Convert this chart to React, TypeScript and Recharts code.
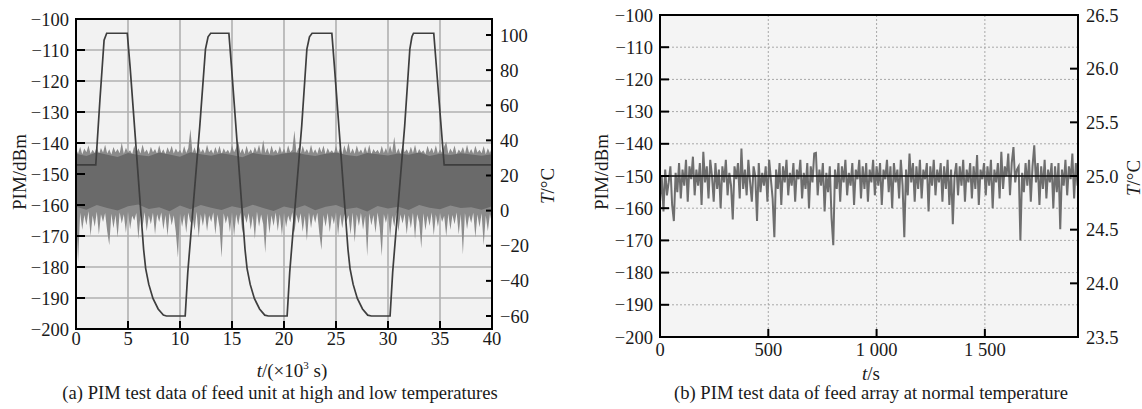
import { ComposedChart, Line, Area, XAxis, YAxis, CartesianGrid, ReferenceArea } from 'recharts';

// ---- (a) feed unit, high / low temperature, t in 10^3 s ----
const tempTimeA = [
  0, 1.9, 2.3, 2.7, 2.95, 4.93, 5.2, 6.15, 6.5, 6.7, 7.0, 7.4, 7.9, 8.4, 8.7,
  10.5, 10.75, 11.3, 11.9, 12.45, 12.7, 12.95, 14.7, 14.95, 15.9, 16.25, 16.45, 16.75, 17.15, 17.65, 18.15, 18.5,
  20.3, 20.55, 21.1, 21.7, 22.2, 22.45, 22.7, 24.6, 24.85, 25.8, 26.15, 26.35, 26.65, 27.05, 27.55, 28.05, 28.4,
  30.2, 30.45, 31.0, 31.6, 32.1, 32.3, 32.45, 34.4, 35.4, 40,
];
const tempValA = [
  26, 26, 63, 97, 101, 101, 82, 6, -22, -33, -42, -50, -56, -59.5, -60,
  -60, -35, 5, 48, 92, 99, 101, 101, 82, 6, -22, -33, -42, -50, -56, -59.5, -60,
  -60, -35, 5, 48, 92, 99, 101, 101, 82, 6, -22, -33, -42, -50, -56, -59.5, -60,
  -60, -35, 5, 48, 92, 99, 101, 101, 26, 26,
];

// PIM noise band, outer spikes every 0.2 x10^3 s
const pimStepA = 0.2;
const pimUpperA = [
  -142.0, -143.4, -141.2, -143.6, -141.8, -143.0, -140.8, -143.5, -142.2, -143.2,
  -141.0, -143.6, -141.6, -143.1, -140.6, -143.4, -142.0, -143.7, -141.3, -143.0,
  -141.9, -143.3, -139.8, -143.5, -141.5, -143.0, -142.3, -143.6, -140.9, -143.2,
  -141.7, -143.4, -140.5, -143.1, -142.1, -143.6, -141.2, -143.0, -141.9, -143.5,
  -140.7, -143.2, -142.0, -143.6, -141.4, -143.0, -140.9, -143.4, -141.8, -143.1,
  -142.2, -143.5, -141.0, -143.2, -141.6, -135.5, -143.3, -141.4, -143.6, -140.8,
  -143.1, -141.9, -143.4, -140.6, -143.0, -142.1, -143.5, -141.3, -143.2, -140.9,
  -143.6, -141.7, -143.1, -142.2, -143.4, -140.7, -143.0, -141.5, -139.5, -143.3,
  -141.8, -143.6, -140.9, -143.2, -142.0, -143.4, -141.2, -143.0, -140.6, -143.5,
  -139.0, -143.2, -141.6, -143.6, -140.8, -143.1, -142.1, -143.4, -141.0, -143.2,
  -141.8, -143.5, -140.7, -143.0, -142.2, -136.0, -143.3, -141.4, -143.6, -140.9,
  -143.1, -141.9, -143.4, -140.6, -143.2, -142.0, -143.5, -141.2, -143.0, -140.8,
  -143.6, -141.6, -143.1, -142.3, -143.4, -140.9, -143.2, -141.5, -143.6, -140.7,
  -143.0, -139.8, -143.3, -141.8, -143.5, -140.8, -143.1, -142.1, -143.4, -141.1,
  -143.2, -140.6, -143.6, -141.9, -143.0, -142.2, -143.4, -140.9, -143.2, -141.6,
  -143.5, -140.8, -143.1, -138.0, -143.3, -141.7, -143.6, -140.7, -143.0, -142.0,
  -143.4, -141.2, -143.2, -140.6, -143.5, -141.9, -143.1, -142.3, -143.6, -140.9,
  -143.0, -141.5, -143.3, -140.7, -143.4, -142.0, -143.2, -141.1, -139.5, -143.5,
  -141.8, -143.1, -140.8, -143.6, -142.1, -143.0, -141.3, -143.4, -140.6, -143.2,
  -141.9, -143.5, -140.9, -143.1, -142.2, -143.3, -141.0, -143.6, -141.7, -143.2,
  -141.4,
];
const pimLowerA = [
  -163.0, -178.5, -162.5, -168.0, -163.2, -166.5, -162.0, -170.0, -163.4, -167.0,
  -162.2, -169.5, -163.0, -165.5, -162.6, -168.5, -173.0, -162.8, -167.5, -163.2,
  -170.5, -162.4, -166.0, -163.0, -169.0, -162.2, -167.8, -163.5, -165.0, -162.6,
  -171.0, -163.1, -167.0, -162.3, -168.5, -163.4, -166.2, -162.5, -169.5, -163.0,
  -165.5, -162.4, -168.0, -163.2, -170.0, -162.6, -166.5, -163.3, -168.8, -177.0,
  -162.8, -167.0, -163.1, -169.0, -162.4, -165.8, -163.5, -168.2, -162.2, -170.5,
  -163.0, -166.8, -162.6, -168.5, -163.3, -165.5, -162.4, -169.5, -163.1, -167.2,
  -177.0, -162.7, -166.0, -163.4, -168.8, -162.3, -170.2, -163.0, -166.5, -162.5,
  -169.0, -163.2, -165.8, -162.6, -168.0, -163.5, -171.0, -162.2, -167.0, -163.1,
  -166.2, -175.5, -162.8, -169.2, -163.3, -166.8, -162.4, -168.5, -163.0, -170.0,
  -162.6, -167.2, -163.4, -165.6, -162.3, -169.0, -163.1, -166.0, -162.7, -168.6,
  -163.5, -171.5, -162.4, -167.5, -163.0, -165.8, -162.5, -169.2, -174.5, -163.2,
  -167.0, -162.6, -168.8, -163.4, -166.2, -162.3, -170.0, -163.0, -167.5, -162.8,
  -165.5, -163.3, -169.5, -162.4, -172.0, -163.1, -166.8, -162.6, -168.0, -163.5,
  -176.5, -162.7, -166.5, -163.2, -169.0, -162.4, -167.2, -176.5, -163.0, -165.8,
  -162.6, -170.5, -163.4, -167.0, -162.3, -168.6, -163.1, -166.0, -162.8, -169.5,
  -163.3, -167.5, -162.5, -171.0, -163.0, -165.6, -174.0, -162.7, -168.2, -163.4,
  -166.8, -162.4, -169.8, -163.1, -167.0, -162.6, -165.5, -163.5, -170.2, -162.8,
  -168.0, -163.2, -166.2, -162.4, -169.5, -163.0, -176.0, -162.6, -167.8, -163.3,
  -165.8, -162.5, -170.5, -163.1, -167.2, -162.7, -173.0, -163.4, -168.5, -162.9,
  -166.0,
];
// dense dark core of the band, every 1 x10^3 s
const pimCoreTopA = [
  -143.5, -144.2, -143.0, -143.8, -144.5, -143.2, -143.9, -144.3, -143.1, -143.7,
  -144.4, -143.0, -143.6, -144.1, -143.3, -143.9, -144.6, -143.2, -143.8, -144.0,
  -143.4, -143.0, -143.7, -144.2, -143.5, -143.1, -143.9, -144.3, -143.2, -143.6,
  -144.0, -143.4, -143.8, -143.1, -144.2, -143.5, -143.9, -143.3, -143.7, -144.1,
  -143.6,
];
const pimCoreBotA = [
  -160.6, -161.5, -160.0, -161.0, -161.8, -160.4, -159.8, -161.3, -160.7, -162.0,
  -160.2, -161.4, -160.0, -160.9, -161.6, -160.4, -161.1, -159.9, -161.0, -161.9,
  -160.5, -161.2, -160.1, -161.7, -160.6, -160.0, -161.3, -160.8, -162.1, -160.3,
  -161.1, -160.6, -161.6, -160.0, -160.9, -161.4, -160.2, -161.0, -160.7, -161.5,
  -160.4,
];

const pimTicks = [-200, -190, -180, -170, -160, -150, -140, -130, -120, -110, -100];
const timeTicksA = [0, 5, 10, 15, 20, 25, 30, 35, 40];
const tempTicksA = [-60, -40, -20, 0, 20, 40, 60, 80, 100];

// ---- (b) feed array, normal temperature, t in s (one reading every 8 s) ----
const pimStepB = 8;
const pimB = [
  -158, -150, -161, -148, -156, -152, -147, -159, -164, -149,
  -155, -146, -157, -148, -153, -145, -158, -147, -151, -144,
  -156, -148, -153, -146, -159, -142.5, -152, -147, -157, -145,
  -150, -158, -146, -154, -148, -160, -147, -152, -145, -156,
  -149, -153, -163.5, -147, -151, -146, -157, -141.5, -154, -148,
  -156, -145, -152, -158, -147, -150, -164, -146, -155, -149,
  -153, -147, -158, -145, -151, -157, -169, -148, -154, -146,
  -159, -147, -152, -145, -156, -149, -153, -146, -158, -148,
  -151, -145, -157, -149, -154, -146, -160, -147, -152, -143,
  -142.8, -156, -148, -153, -146, -161, -149, -155, -147, -163,
  -171.5, -148, -154, -146, -158, -147, -152, -145, -156, -149,
  -153, -146, -159, -148, -151, -145, -157, -147, -154, -146,
  -158, -148, -152, -145, -156, -147, -153, -146, -159, -148,
  -151, -145, -155, -147, -160, -146, -152, -148, -157, -145,
  -153, -169, -148, -156, -143, -152, -146, -158, -147, -154,
  -145, -157, -148, -151, -146, -161, -147, -153, -145, -156,
  -148, -152, -146, -158, -147, -154, -145, -159, -148, -165,
  -150, -146, -156, -147, -153, -145, -158, -148, -152, -146,
  -157, -147, -154, -143.5, -159, -148, -151, -146, -156, -147,
  -153, -145, -160, -148, -152, -146, -157, -142.5, -154, -147,
  -150, -143, -156, -146, -141, -152, -148, -147, -170, -149,
  -155, -146, -153, -145, -158, -147, -140.5, -152, -146, -159,
  -147, -154, -145, -157, -148, -152, -146, -160, -147, -155,
  -146, -166.5, -148, -153, -145, -156, -147, -151, -143, -157,
  -146, -153,
];
const tempTimeB = [0, 1930];
const tempValB = [25.0, 25.0];
const timeTicksB = [0, 500, 1000, 1500];
const tempTicksB = [23.5, 24.0, 24.5, 25.0, 25.5, 26.0, 26.5];

const bandA = pimUpperA.map((hi, i) => ({ t: i * pimStepA, band: [pimLowerA[i], hi] }));
const coreA = pimCoreTopA.map((hi, i) => ({ t: i, band: [pimCoreBotA[i], hi] }));
const tempA = tempTimeA.map((t, i) => ({ t, T: tempValA[i] }));
const pimDataB = pimB.map((v, i) => ({ t: i * pimStepB, pim: v }));
const tempB = tempTimeB.map((t, i) => ({ t, T: tempValB[i] }));

const FONT = '"Liberation Serif", "Times New Roman", serif';
const tickFont = { fontFamily: FONT, fontSize: 18.5, fill: '#1a1a1a' };
const axisStroke = { stroke: '#000', strokeWidth: 2 };
const minus = (v: number) => String(v).replace('-', '\u2212');

const Txt = ({ x, y, rotate = 0, size = 19, children }: any) => (
  <div
    style={{
      position: 'absolute',
      left: x,
      top: y,
      transform: `translate(-50%, -50%) rotate(${rotate}deg)`,
      fontFamily: FONT,
      fontSize: size,
      color: '#1a1a1a',
      whiteSpace: 'nowrap',
      lineHeight: 1,
    }}
  >
    {children}
  </div>
);

const App = () => {
  return (
    <div style={{ position: 'absolute', left: 0, top: 0, width: 1142, height: 409, background: '#fff' }}>
      <div style={{ position: 'absolute', left: 0, top: 0 }}>
        <ComposedChart width={560} height={409} margin={{ top: 19, right: 0, bottom: 0, left: 0 }}>
          <CartesianGrid yAxisId="pim" fill="#f2f2f2" stroke="#b0b0b0" strokeWidth={1.6} />
          <XAxis
            type="number"
            dataKey="t"
            domain={[0, 40]}
            ticks={timeTicksA}
            interval={0}
            height={80}
            tickSize={-8}
            tickMargin={11}
            axisLine={axisStroke}
            tickLine={axisStroke}
            tick={tickFont}
          />
          <YAxis
            yAxisId="pim"
            type="number"
            domain={[-200, -100]}
            ticks={pimTicks}
            interval={0}
            width={76}
            tickSize={-9}
            tickMargin={16}
            axisLine={axisStroke}
            tickLine={axisStroke}
            tick={tickFont}
            tickFormatter={minus}
          />
          <YAxis
            yAxisId="T"
            orientation="right"
            type="number"
            domain={[-67.4, 109.1]}
            ticks={tempTicksA}
            interval={0}
            width={68}
            tickSize={-6}
            tickMargin={14}
            axisLine={axisStroke}
            tickLine={axisStroke}
            tick={tickFont}
            tickFormatter={minus}
          />
          <Area yAxisId="pim" data={bandA} dataKey="band" type="linear" stroke="none" fill="#8b8b8b" fillOpacity={1} isAnimationActive={false} />
          <Area yAxisId="pim" data={coreA} dataKey="band" type="linear" stroke="none" fill="#6a6a6a" fillOpacity={1} isAnimationActive={false} />
          <Line yAxisId="T" data={tempA} dataKey="T" type="linear" stroke="#3e3e3e" strokeWidth={1.7} dot={false} isAnimationActive={false} />
          <ReferenceArea yAxisId="pim" x1={0} x2={40} y1={-200} y2={-100} fill="none" stroke="#000" strokeWidth={2} />
        </ComposedChart>
      </div>

      <div style={{ position: 'absolute', left: 580, top: 0 }}>
        <ComposedChart width={562} height={409} margin={{ top: 15, right: 0, bottom: 0, left: 0 }}>
          <CartesianGrid yAxisId="pim" fill="#f4f4f4" stroke="#a8a8a8" strokeDasharray="2 2" />
          <XAxis
            type="number"
            dataKey="t"
            domain={[0, 1930]}
            ticks={timeTicksB}
            interval={0}
            height={72}
            tickSize={-8}
            tickMargin={14}
            axisLine={axisStroke}
            tickLine={axisStroke}
            tick={tickFont}
            tickFormatter={(v: number) => (v >= 1000 ? `${Math.floor(v / 1000)} ${String(v % 1000).padStart(3, '0')}` : String(v))}
          />
          <YAxis
            yAxisId="pim"
            type="number"
            domain={[-200, -100]}
            ticks={pimTicks}
            interval={0}
            width={80}
            tickSize={-9}
            tickMargin={16}
            axisLine={axisStroke}
            tickLine={axisStroke}
            tick={tickFont}
            tickFormatter={minus}
          />
          <YAxis
            yAxisId="T"
            orientation="right"
            type="number"
            domain={[23.5, 26.5]}
            ticks={tempTicksB}
            interval={0}
            width={64}
            tickSize={-8}
            tickMargin={16}
            axisLine={axisStroke}
            tickLine={axisStroke}
            tick={tickFont}
            tickFormatter={(v: number) => v.toFixed(1)}
          />
          <Line yAxisId="pim" data={pimDataB} dataKey="pim" type="linear" stroke="#6e6e6e" strokeWidth={2} dot={false} isAnimationActive={false} />
          <Line yAxisId="T" data={tempB} dataKey="T" type="linear" stroke="#111" strokeWidth={1.6} dot={false} isAnimationActive={false} />
          <ReferenceArea yAxisId="pim" x1={0} x2={1930} y1={-200} y2={-100} fill="none" stroke="#000" strokeWidth={2} />
        </ComposedChart>
      </div>

      <Txt x={19} y={172} rotate={-90}>PIM/dBm</Txt>
      <Txt x={547} y={186} rotate={-90}><i>T</i>/°C</Txt>
      <Txt x={292} y={370}><i>t</i>/(×10<sup style={{ fontSize: 11, verticalAlign: 'super', lineHeight: 0 }}>3</sup> s)</Txt>
      <Txt x={280} y={393} size={18.6}>(a) PIM test data of feed unit at high and low temperatures</Txt>

      <Txt x={601} y={172} rotate={-90}>PIM/dBm</Txt>
      <Txt x={1133} y={178} rotate={-90}><i>T</i>/°C</Txt>
      <Txt x={871} y={373}><i>t</i>/s</Txt>
      <Txt x={871} y={393} size={18.6}>(b) PIM test data of feed array at normal temperature</Txt>
    </div>
  );
};

export default App;
